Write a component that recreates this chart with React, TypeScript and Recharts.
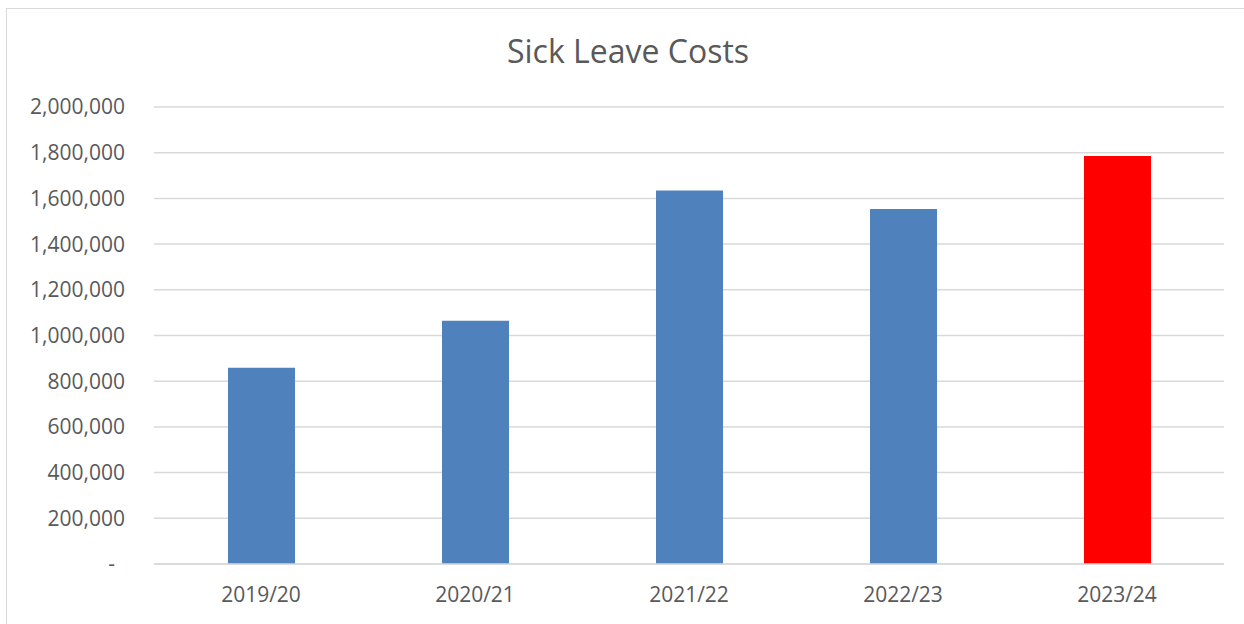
import { BarChart, Bar, XAxis, YAxis, CartesianGrid, Cell } from "recharts";

const YEARS = ["2019/20", "2020/21", "2021/22", "2022/23", "2023/24"];
const COSTS = [859000, 1065000, 1635000, 1554000, 1786000];
const BAR_COLORS = ["#4f81bd", "#4f81bd", "#4f81bd", "#4f81bd", "#ff0000"];
const Y_TICKS = [0, 200000, 400000, 600000, 800000, 1000000, 1200000, 1400000, 1600000, 1800000, 2000000];

const FONT = "'Open Sans', sans-serif";
const TEXT = "#595959";

const data = YEARS.map((year, i) => ({ year, cost: COSTS[i] }));

// Excel accounting style: zero shows as a dash, set in from the right
function YTick(props: any) {
  const { x, y, payload } = props;
  const zero = payload.value === 0;
  return (
    <text
      x={zero ? x - 10 : x}
      y={y}
      dy="0.355em"
      textAnchor="end"
      fill={TEXT}
      fontSize={21}
      fontFamily={FONT}
    >
      {zero ? "-" : payload.value.toLocaleString("en-US")}
    </text>
  );
}

export default function App() {
  return (
    <div style={{ position: "absolute", left: 0, top: 0, width: 1244, height: 624, background: "#fff" }}>
      <div
        style={{
          position: "absolute",
          left: 6,
          top: 8,
          width: 1238,
          height: 616,
          borderTop: "1px solid #d9d9d9",
          borderLeft: "1px solid #d9d9d9",
          boxSizing: "border-box",
        }}
      />
      <div
        style={{
          position: "absolute",
          left: 0,
          width: 1256,
          top: 30,
          textAlign: "center",
          fontFamily: FONT,
          fontSize: 32,
          color: TEXT,
          lineHeight: "42px",
        }}
      >
        Sick Leave Costs
      </div>
      <div style={{ position: "absolute", left: 0, top: 0 }}>
        <BarChart
          width={1244}
          height={624}
          data={data}
          margin={{ top: 107, right: 20, bottom: 0, left: 0 }}
        >
          <CartesianGrid stroke="#d9d9d9" strokeWidth={1.5} vertical={false} />
          <XAxis
            dataKey="year"
            height={60}
            axisLine={{ stroke: "#d9d9d9", strokeWidth: 1.5 }}
            tickLine={false}
            tickSize={0}
            tickMargin={23}
            tick={{ fill: TEXT, fontSize: 21, fontFamily: FONT }}
          />
          <YAxis
            width={154}
            domain={[0, 2000000]}
            ticks={Y_TICKS}
            axisLine={false}
            tickLine={false}
            tickSize={0}
            tickMargin={29}
            tick={<YTick />}
            interval={0}
          />
          <Bar dataKey="cost" barSize={67} isAnimationActive={false}>
            {data.map((d, i) => (
              <Cell key={d.year} fill={BAR_COLORS[i]} />
            ))}
          </Bar>
        </BarChart>
      </div>
    </div>
  );
}
